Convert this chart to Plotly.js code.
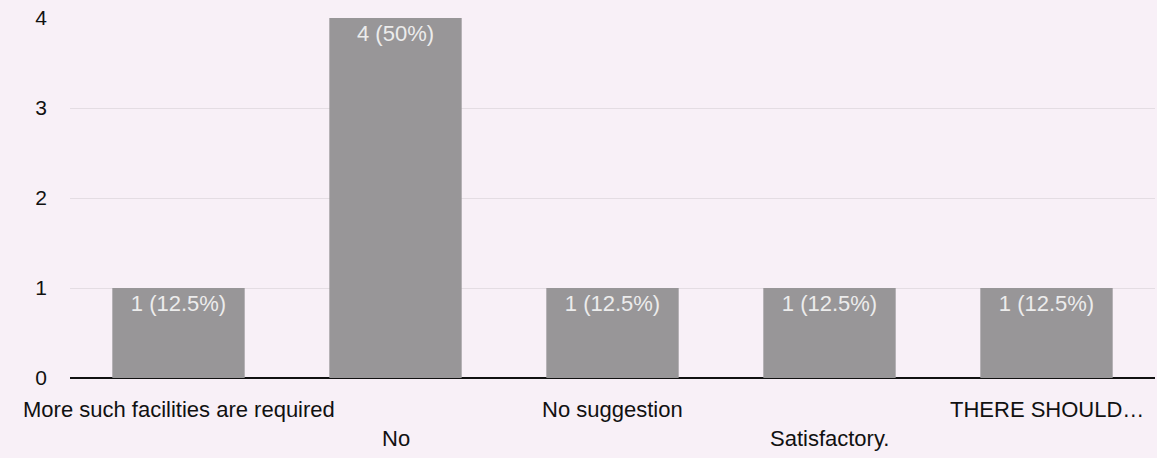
<!DOCTYPE html>
<html>
<head>
<meta charset="utf-8">
<script src="https://cdn.plot.ly/plotly-3.0.1.min.js"></script>
<style>
html,body{margin:0;padding:0;background:#f8f0f7;}
#chart{width:1157px;height:458px;}
</style>
</head>
<body>
<div id="chart"></div>
<script>
const categories = ["More such facilities are required", "No", "No suggestion", "Satisfactory.", "THERE SHOULD\u2026"];
const counts = [1, 4, 1, 1, 1];
const labels = ["1 (12.5%)", "4 (50%)", "1 (12.5%)", "1 (12.5%)", "1 (12.5%)"];
const yTicks = [0, 1, 2, 3, 4];

const FONT = "Liberation Sans, Arial, sans-serif";

const trace = {
  type: "bar",
  x: categories,
  y: counts,
  text: labels,
  textposition: "inside",
  insidetextanchor: "end",
  textangle: 0,
  textfont: {family: FONT, size: 22, color: "#ececec"},
  marker: {color: "#989698"},
  width: 0.61,
  hoverinfo: "none"
};

const annotations = categories.map((c, i) => ({
  x: c, y: 0, xref: "x", yref: "y",
  text: c, showarrow: false,
  yanchor: "top", xanchor: "center",
  yshift: i % 2 === 0 ? -17 : -46,
  font: {family: FONT, size: 22, color: "#111111"}
}));

const layout = {
  width: 1157, height: 458,
  margin: {l: 70, r: 2, t: 18, b: 80},
  paper_bgcolor: "#f8f0f7",
  plot_bgcolor: "#f8f0f7",
  showlegend: false,
  xaxis: {
    type: "category",
    showticklabels: false,
    showgrid: false,
    zeroline: false,
    showline: false,
    range: [-0.5, 4.5]
  },
  yaxis: {
    range: [0, 4],
    tickvals: yTicks,
    ticktext: yTicks.map(String),
    showgrid: true,
    gridcolor: "#e4dde3",
    gridwidth: 1,
    zeroline: true,
    zerolinecolor: "#111111",
    zerolinewidth: 2,
    ticklabelstandoff: 22,
    tickfont: {family: FONT, size: 21, color: "#111111"}
  },
  annotations: annotations
};

Plotly.newPlot("chart", [trace], layout, {staticPlot: true, displayModeBar: false});
</script>
</body>
</html>
